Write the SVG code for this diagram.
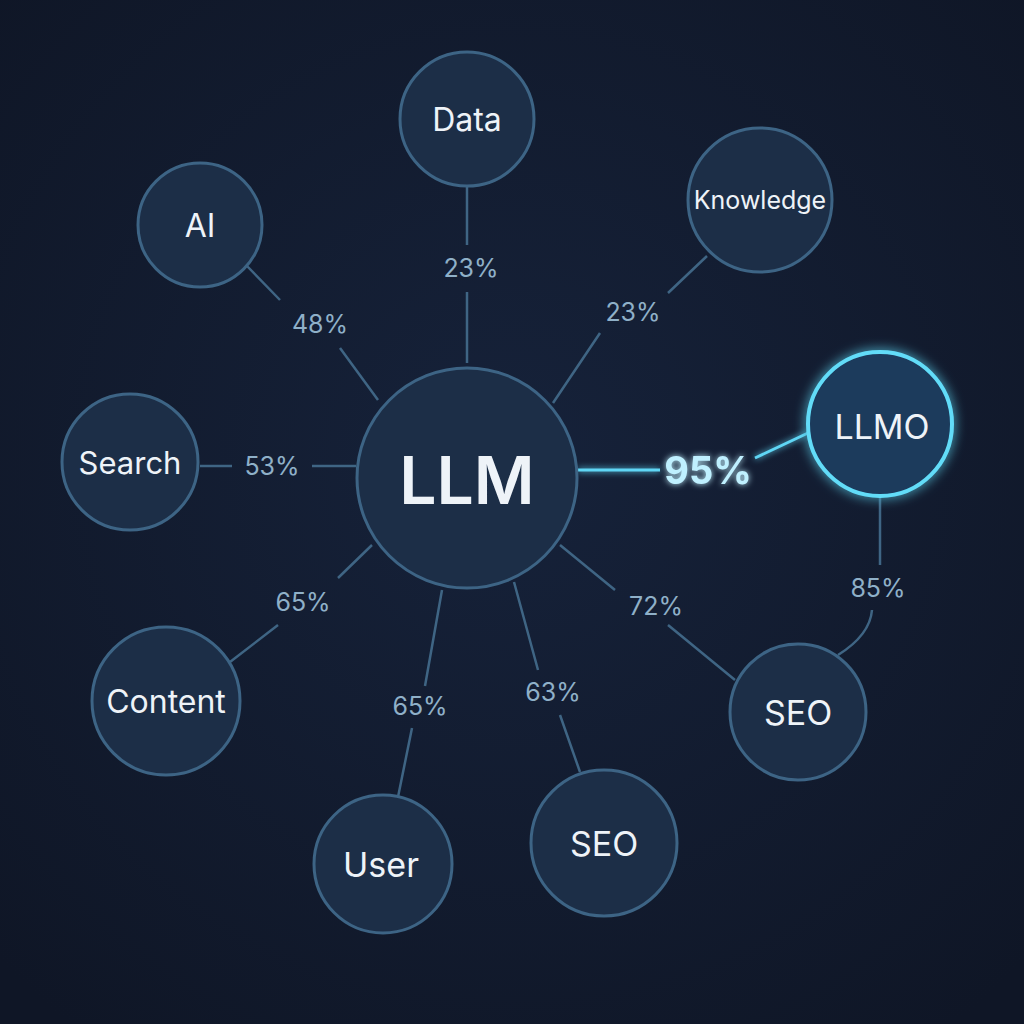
<svg xmlns="http://www.w3.org/2000/svg" width="1024" height="1024" viewBox="0 0 1024 1024">
<defs>
<radialGradient id="bg" cx="50%" cy="45%" r="70%"><stop offset="0" stop-color="#16223a"/><stop offset="1" stop-color="#0f1626"/></radialGradient>
<filter id="glow" x="-50%" y="-50%" width="200%" height="200%"><feGaussianBlur stdDeviation="6" result="b"/><feMerge><feMergeNode in="b"/><feMergeNode in="SourceGraphic"/></feMerge></filter>
<filter id="tglow" x="-50%" y="-50%" width="200%" height="200%"><feGaussianBlur stdDeviation="3" result="b"/><feMerge><feMergeNode in="b"/><feMergeNode in="SourceGraphic"/></feMerge></filter>
</defs>
<style>
.n{fill:#1c2e47;stroke:#3d6485;stroke-width:3}
.t{font-family:"Inter","Liberation Sans",sans-serif;fill:#eef3f8;text-anchor:middle;dominant-baseline:central}
.c{stroke:#3f6584;stroke-width:2.5;fill:none}
.l{font-family:"Inter","Liberation Sans",sans-serif;fill:#8fb0c8;font-size:25px;text-anchor:middle;dominant-baseline:central}
</style>
<rect width="1024" height="1024" fill="url(#bg)"/>
<g id="connectors">
<path class="c" d="M467 187V245M467 292V363"/>
<path class="c" d="M707 256L668 293M600 333L553 403"/>
<path class="c" d="M247 266L280 300M340 348L378 400"/>
<path class="c" d="M200 466H232M312 466H356"/>
<path class="c" d="M880 497V565M872 610Q870 635 838 655"/>
<path class="c" d="M560 545L615 590M668 625L735 680"/>
<path class="c" d="M514 582L538 670M560 715L580 772"/>
<path class="c" d="M442 590L425 686M412 728L398 797"/>
<path class="c" d="M372 545L338 578M278 625L230 662"/>
<g filter="url(#tglow)"><path d="M578 470H660M755 458L808 433" stroke="#5fd6f5" stroke-width="3" fill="none"/></g>
<text class="l" x="471" y="268">23%</text>
<text class="l" x="633" y="312">23%</text>
<text class="l" x="320" y="324">48%</text>
<text class="l" x="272" y="466">53%</text>
<text class="l" x="878" y="588">85%</text>
<text class="l" x="656" y="606">72%</text>
<text class="l" x="553" y="692">63%</text>
<text class="l" x="420" y="706">65%</text>
<text class="l" x="303" y="602">65%</text>
<text x="708" y="470" filter="url(#tglow)" style="font-family:Inter,'Liberation Sans',sans-serif;font-weight:700;font-size:38px;fill:#bff0ff;text-anchor:middle;dominant-baseline:central">95%</text>
</g>
<g id="data"><circle class="n" cx="467" cy="119" r="67"/><text class="t" x="467" y="119" font-size="32">Data</text></g>
<g id="knowledge"><circle class="n" cx="760" cy="200" r="72"/><text class="t" x="760" y="200" font-size="25">Knowledge</text></g>
<g id="ai"><circle class="n" cx="200" cy="225" r="62"/><text class="t" x="200" y="225" font-size="32">AI</text></g>
<g id="search"><circle class="n" cx="130" cy="462" r="68"/><text class="t" x="130" y="462" font-size="31">Search</text></g>
<g id="llm"><circle class="n" cx="467" cy="478" r="110" stroke="#4f7ea3" stroke-width="4"/><text class="t" x="467" y="480" font-size="66" font-weight="600">LLM</text></g>
<g id="llmo"><circle cx="880" cy="424" r="72" fill="#1b3a5c" stroke="#62dcf8" stroke-width="4" filter="url(#glow)"/><text class="t" x="882" y="426" font-size="34">LLMO</text></g>
<g id="content"><circle class="n" cx="166" cy="701" r="74"/><text class="t" x="166" y="701" font-size="32">Content</text></g>
<g id="seo1"><circle class="n" cx="798" cy="712" r="68"/><text class="t" x="798" y="712" font-size="34">SEO</text></g>
<g id="user"><circle class="n" cx="383" cy="864" r="69"/><text class="t" x="381" y="864" font-size="34">User</text></g>
<g id="seo2"><circle class="n" cx="604" cy="843" r="73"/><text class="t" x="604" y="843" font-size="34">SEO</text></g>
</svg>
